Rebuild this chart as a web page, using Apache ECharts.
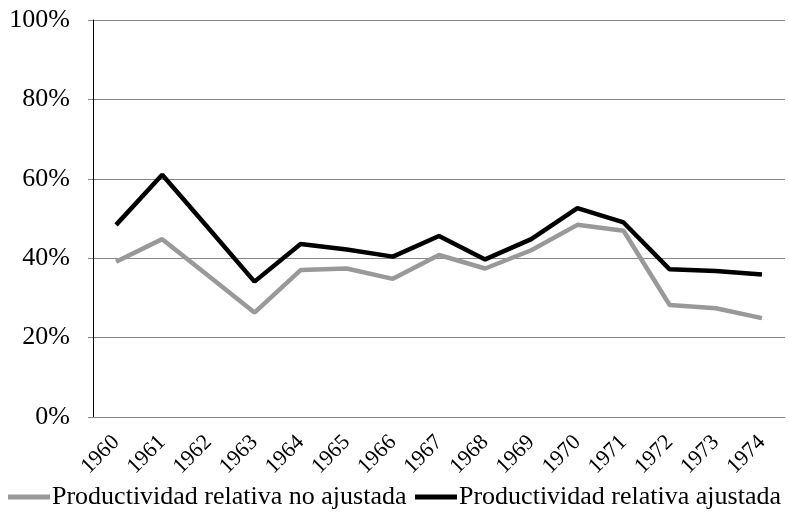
<!DOCTYPE html>
<html>
<head>
<meta charset="utf-8">
<script src="https://cdn.jsdelivr.net/npm/echarts@6/dist/echarts.min.js"></script>
<style>html,body{margin:0;padding:0;background:#fff}#c{width:789px;height:527px}</style>
</head>
<body>
<div id="c"></div>
<script>
const years = ['1960','1961','1962','1963','1964','1965','1966','1967','1968','1969','1970','1971','1972','1973','1974'];
const noAjustada = [39.1, 44.8, 35.6, 26.3, 37.0, 37.4, 34.8, 40.8, 37.4, 42.0, 48.4, 46.9, 28.2, 27.4, 24.9];
const ajustada = [48.4, 61.0, 47.6, 34.1, 43.6, 42.2, 40.4, 45.6, 39.7, 44.8, 52.6, 49.0, 37.2, 36.8, 35.9];
const seriesNames = ['Productividad relativa no ajustada', 'Productividad relativa ajustada'];

const font = '"Liberation Serif", "Times New Roman", serif';
const legendCommon = {
  top: 484, padding: 0,
  itemWidth: 42, itemHeight: 5, itemGap: 8,
  icon: 'rect',
  textStyle: {fontFamily: font, fontSize: 26, color: '#000', padding: [0,0,0,-3]}
};
const chart = echarts.init(document.getElementById('c'), null, {renderer: 'canvas'});
chart.setOption({
  animation: false,
  backgroundColor: '#fff',
  grid: {left: 93, right: 4, top: 20, bottom: 110, containLabel: false},
  legend: [
    Object.assign({left: 8, data: [seriesNames[0]]}, legendCommon),
    Object.assign({left: 415, data: [seriesNames[1]]}, legendCommon)
  ],
  xAxis: {
    type: 'category', data: years, boundaryGap: true,
    axisLine: {lineStyle: {color: '#878787', width: 1}},
    axisTick: {show: false},
    axisLabel: {rotate: 45, fontFamily: font, fontSize: 22, color: '#000', margin: 22, interval: 0}
  },
  yAxis: {
    type: 'value', min: 0, max: 100, interval: 20,
    axisLine: {show: true, lineStyle: {color: '#000', width: 1}},
    axisTick: {show: true, length: 5, lineStyle: {color: '#878787'}},
    splitLine: {lineStyle: {color: '#878787', width: 1}},
    axisLabel: {formatter: '{value}%', fontFamily: font, fontSize: 26, color: '#000', margin: 23}
  },
  series: [
    {name: seriesNames[0], type: 'line', data: noAjustada, showSymbol: false, symbol: 'none',
     lineStyle: {color: '#999999', width: 4.5}, itemStyle: {color: '#999999'}},
    {name: seriesNames[1], type: 'line', data: ajustada, showSymbol: false, symbol: 'none',
     lineStyle: {color: '#000000', width: 4.5}, itemStyle: {color: '#000000'}}
  ]
});
</script>
</body>
</html>
